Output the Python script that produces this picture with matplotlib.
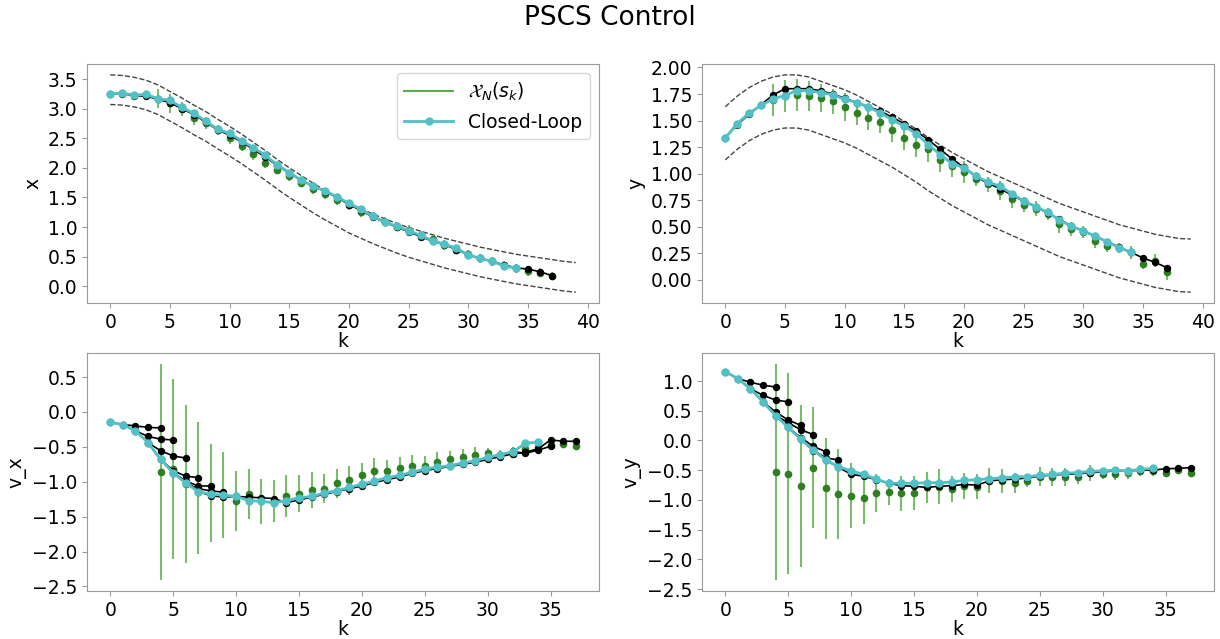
import numpy as np
import matplotlib.pyplot as plt
from matplotlib.lines import Line2D
from matplotlib.ticker import MultipleLocator

plt.rcParams['font.size'] = 13.5
plt.rcParams['axes.edgecolor'] = '#9a9a9a'
plt.rcParams['xtick.color'] = '#9a9a9a'
plt.rcParams['ytick.color'] = '#9a9a9a'
plt.rcParams['xtick.labelcolor'] = 'black'
plt.rcParams['ytick.labelcolor'] = 'black'

# time steps
k_ref = np.arange(40)      # reference tube
k_cl = np.arange(35)       # closed loop
k_blk = np.arange(38)      # predicted trajectories
k_grn = np.arange(4, 38)   # X_N(s_k)
tube = 0.25

# ---- x ----
ref_x = [3.32, 3.31, 3.28, 3.23, 3.15, 3.04, 2.93, 2.81, 2.70, 2.57, 2.45, 2.32, 2.18, 2.04,
         1.89, 1.75, 1.62, 1.49, 1.37, 1.26, 1.15, 1.06, 0.97, 0.89, 0.81, 0.74, 0.68, 0.62,
         0.56, 0.51, 0.46, 0.41, 0.37, 0.33, 0.29, 0.26, 0.23, 0.20, 0.17, 0.15]
cl_x = [3.25, 3.26, 3.23, 3.24, 3.17, 3.14, 3.02, 2.92, 2.79, 2.65, 2.58, 2.46, 2.34, 2.21,
        2.05, 1.92, 1.79, 1.69, 1.61, 1.51, 1.40, 1.30, 1.18, 1.09, 1.01, 0.94, 0.86, 0.77,
        0.71, 0.64, 0.53, 0.47, 0.42, 0.34, 0.31]
blk_x = [3.25, 3.25, 3.22, 3.21, 3.16, 3.10, 3.00, 2.90, 2.77, 2.64, 2.55, 2.44, 2.31, 2.18,
         2.04, 1.91, 1.79, 1.69, 1.60, 1.50, 1.38, 1.28, 1.17, 1.08, 1.00, 0.92, 0.84, 0.76,
         0.70, 0.62, 0.53, 0.47, 0.42, 0.36, 0.31, 0.29, 0.245, 0.18]
pred_x = []
g_x = [3.17, 3.09, 3.00, 2.84, 2.76, 2.64, 2.50, 2.37, 2.23, 2.09, 1.97, 1.86, 1.75, 1.64,
       1.55, 1.46, 1.37, 1.255, 1.18, 1.09, 1.005, 0.95, 0.855, 0.79, 0.695, 0.62, 0.54,
       0.47, 0.42, 0.36, 0.30, 0.26, 0.23, 0.17]
ge_x = [0.16, 0.16, 0.12, 0.11, 0.10, 0.09, 0.09, 0.09, 0.09, 0.09, 0.08, 0.08, 0.08, 0.08,
        0.08, 0.08, 0.08, 0.08, 0.08, 0.08, 0.08, 0.08, 0.08, 0.08, 0.08, 0.08, 0.08,
        0.07, 0.07, 0.07, 0.08, 0.08, 0.08, 0.07]

# ---- y ----
ref_y = [1.38, 1.48, 1.56, 1.62, 1.66, 1.68, 1.68, 1.66, 1.62, 1.58, 1.54, 1.49, 1.43, 1.37,
         1.31, 1.24, 1.17, 1.09, 1.02, 0.95, 0.89, 0.83, 0.77, 0.72, 0.67, 0.62, 0.57, 0.52,
         0.47, 0.43, 0.39, 0.35, 0.31, 0.27, 0.24, 0.21, 0.18, 0.16, 0.14, 0.135]
cl_y = [1.337, 1.471, 1.571, 1.642, 1.705, 1.736, 1.783, 1.78, 1.764, 1.742, 1.70, 1.67,
        1.627, 1.571, 1.508, 1.446, 1.377, 1.274, 1.18, 1.095, 1.056, 0.978, 0.921, 0.884,
        0.812, 0.744, 0.691, 0.635, 0.566, 0.503, 0.463, 0.41, 0.36, 0.304, 0.26]
blk_y = [1.34, 1.46, 1.56, 1.65, 1.74, 1.80, 1.80, 1.80, 1.78, 1.75, 1.71, 1.67, 1.63, 1.59,
         1.53, 1.47, 1.40, 1.32, 1.23, 1.14, 1.06, 0.97, 0.91, 0.86, 0.80, 0.74, 0.69, 0.63,
         0.57, 0.51, 0.46, 0.41, 0.36, 0.31, 0.26, 0.207, 0.166, 0.116]
pred_y = []
g_y = [1.69, 1.735, 1.74, 1.73, 1.71, 1.68, 1.63, 1.57, 1.52, 1.49, 1.415, 1.34, 1.27, 1.23,
       1.13, 1.07, 1.015, 0.95, 0.90, 0.84, 0.76, 0.71, 0.67, 0.62, 0.525, 0.48, 0.45, 0.37,
       0.32, 0.30, 0.26, 0.15, 0.18, 0.07]
ge_y = [0.15, 0.15, 0.15, 0.14, 0.13, 0.12, 0.13, 0.11, 0.11, 0.11, 0.12, 0.12, 0.11, 0.12,
        0.11, 0.10, 0.10, 0.07, 0.07, 0.09, 0.08, 0.07, 0.07, 0.06, 0.08, 0.07, 0.06, 0.07,
        0.06, 0.05, 0.06, 0.05, 0.06, 0.07]

# ---- v_x ----
cl_vx = [-0.15, -0.18, -0.27, -0.44, -0.68, -0.87, -1.02, -1.14, -1.18, -1.19, -1.21, -1.27,
         -1.28, -1.30, -1.27, -1.23, -1.21, -1.16, -1.13, -1.08, -1.035, -0.99, -0.94, -0.91,
         -0.86, -0.82, -0.79, -0.77, -0.73, -0.70, -0.65, -0.61, -0.57, -0.45, -0.43]
blk_vx = [-0.15, -0.18, -0.27, -0.44, -0.68, -0.87, -1.02, -1.14, -1.20, -1.22, -1.21, -1.22,
          -1.23, -1.24, -1.30, -1.26, -1.22, -1.18, -1.14, -1.10, -1.06, -1.01, -0.97, -0.93,
          -0.88, -0.84, -0.81, -0.78, -0.75, -0.72, -0.68, -0.64, -0.60, -0.58, -0.53,
          -0.40, -0.42, -0.42]
pred_vx = [(1, [-0.20, -0.22, -0.23]),
           (2, [-0.35, -0.39, -0.40]),
           (3, [-0.555, -0.63, -0.66]),
           (4, [-0.84, -0.92, -0.94]),
           (5, [-0.99, -1.06, -1.06]),
           (6, [-1.10, -1.13, -1.15]),
           (31, [-0.60, -0.58, -0.53]),
           (32, [-0.59, -0.55, -0.49])]
g_vx = [-0.86, -0.82, -1.03, -1.09, -1.16, -1.19, -1.27, -1.18, -1.28, -1.28, -1.20, -1.17,
        -1.12, -1.10, -1.02, -0.98, -0.91, -0.84, -0.84, -0.80, -0.77, -0.77, -0.71, -0.68,
        -0.64, -0.61, -0.59, -0.61, -0.565, -0.53, -0.50, -0.47, -0.46, -0.485]
ge_vx = [1.55, 1.29, 1.13, 0.95, 0.70, 0.62, 0.43, 0.36, 0.32, 0.30, 0.30, 0.27, 0.26, 0.21,
         0.21, 0.21, 0.18, 0.18, 0.15, 0.15, 0.15, 0.14, 0.14, 0.12, 0.11, 0.11, 0.08, 0.07,
         0.07, 0.06, 0.06, 0.05, 0.05, 0.05]

# ---- v_y ----
cl_vy = [1.158, 1.04, 0.87, 0.65, 0.42, 0.22, 0.02, -0.16, -0.33, -0.44, -0.51, -0.57,
         -0.65, -0.72, -0.72, -0.72, -0.71, -0.71, -0.70, -0.67, -0.66, -0.64, -0.63, -0.61,
         -0.61, -0.585, -0.57, -0.55, -0.54, -0.52, -0.51, -0.50, -0.51, -0.485, -0.47]
blk_vy = [1.16, 1.04, 0.87, 0.65, 0.42, 0.22, 0.02, -0.16, -0.33, -0.45, -0.57, -0.60,
          -0.66, -0.72, -0.76, -0.77, -0.79, -0.77, -0.76, -0.74, -0.75, -0.68, -0.66,
          -0.65, -0.63, -0.60, -0.58, -0.57, -0.56, -0.54, -0.53, -0.51, -0.51, -0.50,
          -0.50, -0.475, -0.47, -0.455]
pred_vy = [(1, [0.98, 0.93, 0.90]),
           (2, [0.76, 0.68, 0.65]),
           (3, [0.48, 0.345, 0.255]),
           (4, [0.30, 0.18, 0.10]),
           (5, [0.05, -0.10, -0.19]),
           (6, [-0.17, -0.29, -0.33])]
g_vy = [-0.53, -0.56, -0.77, -0.455, -0.80, -0.90, -0.93, -0.96, -0.89, -0.86, -0.89, -0.88,
        -0.79, -0.775, -0.81, -0.76, -0.775, -0.68, -0.68, -0.71, -0.68, -0.61, -0.62, -0.62,
        -0.61, -0.55, -0.57, -0.56, -0.55, -0.51, -0.52, -0.55, -0.50, -0.55]
ge_vy = [1.82, 1.69, 1.36, 1.01, 0.85, 0.76, 0.55, 0.44, 0.32, 0.22, 0.30, 0.29, 0.26, 0.29,
         0.22, 0.22, 0.21, 0.21, 0.20, 0.17, 0.10, 0.16, 0.15, 0.15, 0.12, 0.13, 0.08, 0.11,
         0.10, 0.09, 0.08, 0.07, 0.07, 0.07]

CYAN = '#52c0c4'
GREEN_BAR = '#5aad47'
GREEN_DOT = '#2f7f22'


def draw(ax, cl, blk, preds, g, ge, ylabel, ystep, ref=None):
    if ref is not None:
        ref = np.asarray(ref)
        ax.plot(k_ref, ref + tube, '--', color='#444444', lw=1.0, zorder=1)
        ax.plot(k_ref, ref - tube, '--', color='#444444', lw=1.0, zorder=1)
    ax.errorbar(k_grn, g, yerr=ge, fmt='none', ecolor=GREEN_BAR, elinewidth=1.5,
                alpha=0.8, zorder=2)
    ax.plot(k_grn, g, 'o', color=GREEN_DOT, ms=4.5, zorder=2)
    ax.plot(k_blk, blk, '-o', color='black', lw=1.2, ms=4.3, zorder=3)
    for s, vals in preds:
        ax.plot(np.arange(s, s + len(vals) + 1), [cl[s]] + vals, '-o', color='black',
                lw=1.2, ms=4.3, zorder=3)
    ax.plot(k_cl, cl, '-o', color=CYAN, lw=2, ms=5, zorder=4)
    ax.yaxis.set_major_locator(MultipleLocator(ystep))
    ax.xaxis.set_major_locator(MultipleLocator(5))
    ax.set_xlabel('k', labelpad=0)
    ax.set_ylabel(ylabel)


fig = plt.figure(figsize=(12.2, 6.39), dpi=100)
ax_x = fig.add_axes([0.0713, 0.5258, 0.4197, 0.374])
ax_y = fig.add_axes([0.5754, 0.5258, 0.4197, 0.374])
ax_vx = fig.add_axes([0.0713, 0.0751, 0.4197, 0.3725])
ax_vy = fig.add_axes([0.5754, 0.0751, 0.4197, 0.3725])

draw(ax_x, cl_x, blk_x, pred_x, g_x, ge_x, 'x', 0.5, ref_x)
draw(ax_y, cl_y, blk_y, pred_y, g_y, ge_y, 'y', 0.25, ref_y)
draw(ax_vx, cl_vx, blk_vx, pred_vx, g_vx, ge_vx, 'v_x', 0.5)
draw(ax_vy, cl_vy, blk_vy, pred_vy, g_vy, ge_vy, 'v_y', 0.5)

handles = [Line2D([], [], color=GREEN_BAR, lw=1.5),
           Line2D([], [], color=CYAN, lw=2, marker='o', ms=5)]
ax_x.legend(handles, [r'$\mathcal{X}_N(s_k)$', 'Closed-Loop'], loc='upper right',
            fontsize=13.5, handlelength=2.6)

fig.suptitle('PSCS Control', fontsize=19, y=0.972, va='center')
fig.savefig('out.png', dpi=100)
